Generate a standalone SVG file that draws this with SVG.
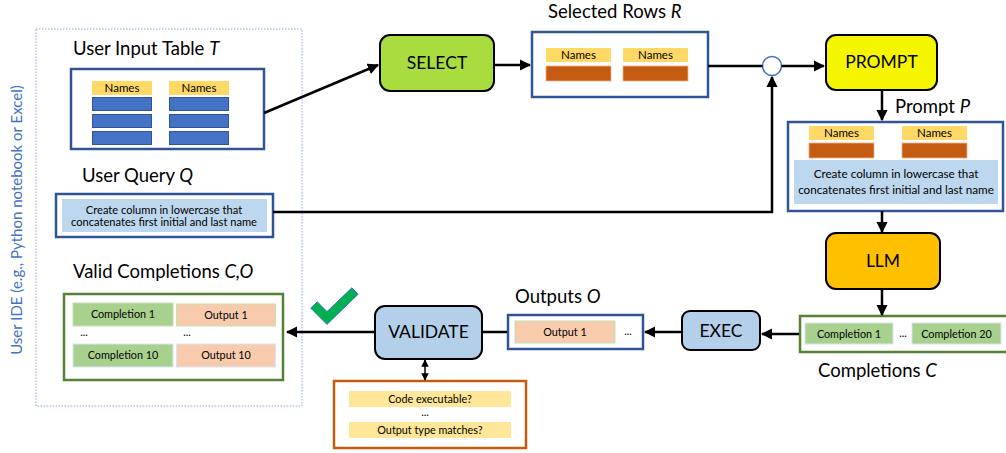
<svg xmlns="http://www.w3.org/2000/svg" width="1006" height="453" viewBox="0 0 1006 453">
<style>
text{font-family:Lato,"Liberation Sans",sans-serif;fill:#000}
.ttl{font-size:18.5px}
.op{font-size:17.5px}
.sm{font-size:10.8px}
.nm{font-size:11.5px}
.q{font-size:11.1px}
.qp{font-size:11.7px}
.blue{fill:#fff;stroke:#2F5597;stroke-width:2.5}
.green{fill:#fff;stroke:#548235;stroke-width:2.5}
.hdr{fill:#FFD966}
.row{fill:#4472C4;stroke:#2F5597;stroke-width:1}
.orow{fill:#C55A11;stroke:#F4B183;stroke-width:0.8}
.node{stroke:#000;stroke-width:2}
.cmp{fill:#A9D18E;stroke:#C5E0B4;stroke-width:1}
.out{fill:#F8CBAD;stroke:#C5E0B4;stroke-width:1}
.ln{fill:none;stroke:#000;stroke-width:2.5}
</style>
<defs>
<marker id="ah" viewBox="0 0 10 10" refX="9" refY="5" markerWidth="4.5" markerHeight="4.5" orient="auto-start-reverse" markerUnits="strokeWidth">
<path d="M0,0 L10,5 L0,10 z" fill="#000"/>
</marker>
<marker id="ahs" viewBox="0 0 10 10" refX="9" refY="5" markerWidth="5" markerHeight="5" orient="auto-start-reverse" markerUnits="strokeWidth">
<path d="M0,0 L10,5 L0,10 z" fill="#000"/>
</marker>
</defs>

<g id="ide">
<rect x="36" y="29" width="266" height="377" fill="none" stroke="#8FAADC" stroke-width="1" stroke-dasharray="1.5,1.5"/>
<text transform="translate(22,220) rotate(-90)" text-anchor="middle" style="font-size:15px;fill:#4472C4">User IDE (e.g., Python notebook or Excel)</text>
</g>

<g id="input-table">
<text class="ttl" x="73" y="55">User Input Table <tspan font-style="italic">T</tspan></text>
<rect class="blue" x="71" y="69" width="193" height="80"/>
<rect class="hdr" x="92" y="81" width="60" height="14"/>
<text class="nm" x="122" y="92" text-anchor="middle">Names</text>
<rect class="hdr" x="169" y="81" width="60" height="14"/>
<text class="nm" x="199" y="92" text-anchor="middle">Names</text>
<rect class="row" x="92.5" y="97.5" width="59" height="13"/>
<rect class="row" x="92.5" y="114.5" width="59" height="13"/>
<rect class="row" x="92.5" y="131.5" width="59" height="13"/>
<rect class="row" x="169.5" y="97.5" width="59" height="13"/>
<rect class="row" x="169.5" y="114.5" width="59" height="13"/>
<rect class="row" x="169.5" y="131.5" width="59" height="13"/>
</g>

<g id="user-query">
<text class="ttl" x="82" y="182">User Query <tspan font-style="italic">Q</tspan></text>
<rect class="blue" x="56" y="194" width="217" height="43"/>
<rect x="62" y="199" width="205" height="33" fill="#BDD7EE"/>
<text class="q" x="164" y="214" text-anchor="middle">Create column in lowercase that</text>
<text class="q" x="164" y="226" text-anchor="middle">concatenates first initial and last name</text>
</g>

<g id="valid-completions">
<text class="ttl" x="73" y="278">Valid Completions <tspan font-style="italic">C,O</tspan></text>
<rect class="green" x="64" y="294" width="219" height="86"/>
<rect class="cmp" x="73" y="303" width="100" height="23"/>
<text class="sm" x="123" y="318" text-anchor="middle">Completion 1</text>
<rect class="out" x="176.5" y="304" width="99" height="22"/>
<text class="sm" x="226" y="319" text-anchor="middle">Output 1</text>
<text class="sm" x="84" y="336" text-anchor="middle">...</text>
<text class="sm" x="187" y="336" text-anchor="middle">...</text>
<rect class="cmp" x="73" y="344" width="100" height="23" style="stroke:#DAE3F3"/>
<text class="sm" x="123" y="359" text-anchor="middle">Completion  10</text>
<rect class="out" x="176.5" y="344" width="99" height="23" style="stroke:#DAE3F3"/>
<text class="sm" x="226" y="359" text-anchor="middle">Output 10</text>
</g>

<g id="checkmark">
<polygon points="317.2,301.8 327,311.6 351.9,287.8 358.1,294.2 327,324.4 310.8,308.2" fill="#00B050" stroke="#4472C4" stroke-width="1"/>
</g>

<g id="select">
<rect class="node" x="380" y="35" width="114" height="56" rx="10" fill="#A9DD3F"/>
<text class="op" x="437" y="69" text-anchor="middle">SELECT</text>
</g>

<g id="selected-rows">
<text class="ttl" x="548" y="18">Selected Rows <tspan font-style="italic">R</tspan></text>
<rect class="blue" x="532" y="32" width="176" height="65"/>
<rect class="hdr" x="546" y="48" width="65" height="14"/>
<text class="nm" x="578.5" y="59" text-anchor="middle">Names</text>
<rect class="hdr" x="623" y="48" width="65" height="14"/>
<text class="nm" x="655.5" y="59" text-anchor="middle">Names</text>
<rect class="orow" x="546" y="66" width="65" height="15"/>
<rect class="orow" x="623" y="66" width="65" height="15"/>
</g>

<g id="merge">
<circle cx="772" cy="66" r="9.5" fill="#fff" stroke="#4472C4" stroke-width="1.5"/>
</g>

<g id="prompt">
<rect class="node" x="826" y="35" width="111" height="55" rx="10" fill="#F5F500"/>
<text class="op" x="881.5" y="68" text-anchor="middle">PROMPT</text>
</g>

<g id="prompt-p">
<text class="ttl" x="895" y="113">Prompt <tspan font-style="italic">P</tspan></text>
<rect class="blue" x="788" y="122" width="215" height="89"/>
<rect class="hdr" x="809" y="126" width="65" height="14"/>
<text class="nm" x="841.5" y="137" text-anchor="middle">Names</text>
<rect class="hdr" x="902" y="126" width="65" height="14"/>
<text class="nm" x="934.5" y="137" text-anchor="middle">Names</text>
<rect class="orow" x="809" y="143" width="65" height="15"/>
<rect class="orow" x="902" y="143" width="65" height="15"/>
<rect x="794" y="160" width="204" height="44" fill="#BDD7EE"/>
<text class="qp" x="896" y="178" text-anchor="middle">Create column in lowercase that</text>
<text class="qp" x="896" y="194" text-anchor="middle">concatenates first initial and last name</text>
</g>

<g id="llm">
<rect class="node" x="826" y="233" width="114" height="56" rx="10" fill="#FFC000"/>
<text class="op" x="883" y="267" text-anchor="middle">LLM</text>
</g>

<g id="completions-c">
<rect class="green" x="800" y="316" width="210" height="36"/>
<rect class="cmp" x="805" y="323" width="88" height="21" style="stroke:#DAE3F3"/>
<text class="sm" x="849" y="338" text-anchor="middle">Completion  1</text>
<text class="sm" x="903" y="337" text-anchor="middle">...</text>
<rect class="cmp" x="912" y="323" width="89" height="21" style="stroke:#DAE3F3"/>
<text class="sm" x="956.5" y="338" text-anchor="middle">Completion  20</text>
<text class="ttl" x="818" y="377">Completions <tspan font-style="italic">C</tspan></text>
</g>

<g id="exec">
<rect class="node" x="682" y="311" width="78" height="39" rx="8" fill="#B4CFEA"/>
<text class="op" x="721" y="337" text-anchor="middle">EXEC</text>
</g>

<g id="outputs-o">
<text class="ttl" x="515" y="303">Outputs <tspan font-style="italic">O</tspan></text>
<rect class="blue" x="508" y="315" width="135" height="34"/>
<rect class="out" x="515" y="321" width="100" height="22"/>
<text class="sm" x="565" y="336" text-anchor="middle">Output 1</text>
<text class="sm" x="628" y="335" text-anchor="middle">...</text>
</g>

<g id="validate">
<rect class="node" x="375" y="306" width="107" height="53" rx="10" fill="#B4CFEA"/>
<text class="op" x="428.5" y="338" text-anchor="middle">VALIDATE</text>
</g>

<g id="checks">
<rect x="334" y="381" width="192" height="67" fill="#fff" stroke="#C55A11" stroke-width="2.5"/>
<rect x="349" y="391" width="162" height="16" fill="#FFE699"/>
<text class="sm" x="430" y="403" text-anchor="middle">Code executable?</text>
<text class="sm" x="425" y="416" text-anchor="middle">...</text>
<rect x="349" y="422" width="162" height="16" fill="#FFE699"/>
<text class="sm" x="430" y="434" text-anchor="middle">Output type matches?</text>
</g>

<g id="connectors">
<line class="ln" x1="264" y1="113" x2="378" y2="65" marker-end="url(#ah)"/>
<line class="ln" x1="494" y1="65" x2="530" y2="65" marker-end="url(#ah)"/>
<line class="ln" x1="708" y1="66" x2="762.5" y2="66"/>
<line class="ln" x1="781.5" y1="66" x2="824" y2="66" marker-end="url(#ah)"/>
<polyline class="ln" points="273,212 772,212 772,77" marker-end="url(#ah)"/>
<line class="ln" x1="882" y1="90" x2="882" y2="120" marker-end="url(#ah)"/>
<line class="ln" x1="882" y1="211" x2="882" y2="232" marker-end="url(#ah)"/>
<line class="ln" x1="882" y1="289" x2="882" y2="315" marker-end="url(#ah)"/>
<line class="ln" x1="799" y1="334" x2="762" y2="334" marker-end="url(#ah)"/>
<line class="ln" x1="682" y1="332" x2="645" y2="332" marker-end="url(#ah)"/>
<line class="ln" x1="507" y1="332" x2="482" y2="332"/>
<line class="ln" x1="375" y1="332" x2="287" y2="332" marker-end="url(#ah)"/>
<line x1="425" y1="360" x2="425" y2="380" stroke="#000" stroke-width="1.5" marker-start="url(#ahs)" marker-end="url(#ahs)"/>
</g>
</svg>
